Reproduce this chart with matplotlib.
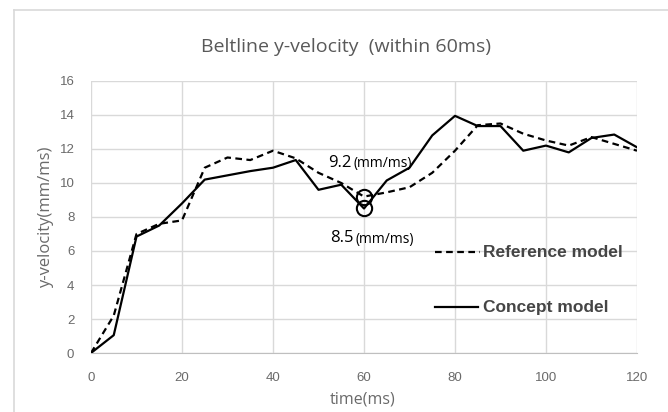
import matplotlib
matplotlib.use("Agg")
import matplotlib.pyplot as plt
from matplotlib.lines import Line2D

time_ms = [0, 5, 10, 15, 20, 25, 30, 35, 40, 45, 50, 55, 60, 65, 70, 75, 80, 85, 90, 95, 100, 105, 110, 115, 120]
reference_model = [0, 2.2, 7.0, 7.6, 7.8, 10.9, 11.5, 11.35, 11.9, 11.45, 10.6, 10.0, 9.2, 9.45, 9.75, 10.6, 11.9, 13.4, 13.5, 12.9, 12.5, 12.2, 12.7, 12.3, 11.9]
concept_model = [0, 1.05, 6.85, 7.5, 8.8, 10.2, 10.45, 10.7, 10.9, 11.35, 9.6, 9.9, 8.5, 10.15, 10.9, 12.8, 13.95, 13.35, 13.35, 11.9, 12.2, 11.8, 12.65, 12.85, 12.1]
x_ticks = [0, 20, 40, 60, 80, 100, 120]
y_ticks = [0, 2, 4, 6, 8, 10, 12, 14, 16]
marked_t = 60
marked_ref = 9.2
marked_con = 8.5

plt.rcParams['font.family'] = ['Liberation Sans', 'DejaVu Sans']

fig = plt.figure(figsize=(6.68, 4.12), dpi=100)
fig.patch.set_facecolor('white')
ax = fig.add_axes([91/668, 1-353/412, (637-91)/668, (353-81)/412])

grid_c = '#d9d9d9'
ax.set_xlim(0, 120)
ax.set_ylim(0, 16)
ax.set_xticks(x_ticks)
ax.set_yticks(y_ticks)
ax.grid(True, color=grid_c, linewidth=1.0)
ax.set_axisbelow(True)
for s in ax.spines.values():
    s.set_visible(False)
ax.spines['bottom'].set_visible(True)
ax.spines['bottom'].set_color('#bfbfbf')
ax.tick_params(length=0, colors='#6a6a6a', labelsize=9.5)
ax.tick_params(axis='x', pad=14)
ax.tick_params(axis='y', pad=12)

ax.plot(time_ms, reference_model, color='black', linewidth=1.6, linestyle=(0, (3, 2)), zorder=3)
ax.plot(time_ms, concept_model, color='black', linewidth=1.6, linestyle='-', zorder=3)

ax.plot([marked_t, marked_t], [marked_ref, marked_con], linestyle='none', marker='o',
        markersize=11, markerfacecolor='none', markeredgecolor='black', markeredgewidth=1.5, zorder=4)

ann_font = ['Open Sans', 'DejaVu Sans']
ax.text(52.1, 11.2, f"{marked_ref}", fontsize=12, family=ann_font, color='black', va='center', ha='left')
ax.text(57.7, 11.15, "(mm/ms)", fontsize=10, family=ann_font, color='black', va='center', ha='left')
ax.text(52.5, 6.75, f"{marked_con}", fontsize=12, family=ann_font, color='black', va='center', ha='left')
ax.text(58.1, 6.7, "(mm/ms)", fontsize=10, family=ann_font, color='black', va='center', ha='left')

# custom legend
ax.add_line(Line2D([0.63, 0.712], [0.371, 0.371], transform=ax.transAxes, color='black',
                   linewidth=1.6, linestyle=(0, (3, 2))))
ax.text(0.718, 0.371, "Reference model", transform=ax.transAxes, fontsize=12.5, fontweight='bold',
        color='#454545', va='center', ha='left')
ax.add_line(Line2D([0.63, 0.708], [0.169, 0.169], transform=ax.transAxes, color='black',
                   linewidth=1.6, linestyle='-'))
ax.text(0.718, 0.169, "Concept model", transform=ax.transAxes, fontsize=12.5, fontweight='bold',
        color='#454545', va='center', ha='left')

lab_font = ['Open Sans', 'DejaVu Sans']
ax.set_xlabel("time(ms)", fontsize=11.5, family=lab_font, color='#6a6a6a', va='center')
ax.set_ylabel("y-velocity(mm/ms)", fontsize=12, family=lab_font, color='#6a6a6a', va='center')
ax.xaxis.set_label_coords((363-91)/546, (353-400)/272)
ax.yaxis.set_label_coords((46-91)/546, 0.5)

fig.text(346/668, 1-47/412, "Beltline y-velocity  (within 60ms)", fontsize=14, family=['Open Sans', 'DejaVu Sans'],
         color='#595959', ha='center', va='center')

# chart-area border (top and left)
fig.add_artist(Line2D([13.5/668, 13.5/668], [0, 1-10/412], transform=fig.transFigure, color='#d9d9d9', linewidth=1.2))
fig.add_artist(Line2D([13.5/668, 1], [1-10/412, 1-10/412], transform=fig.transFigure, color='#d9d9d9', linewidth=1.2))

fig.savefig("out.png", dpi=100, facecolor='white')
